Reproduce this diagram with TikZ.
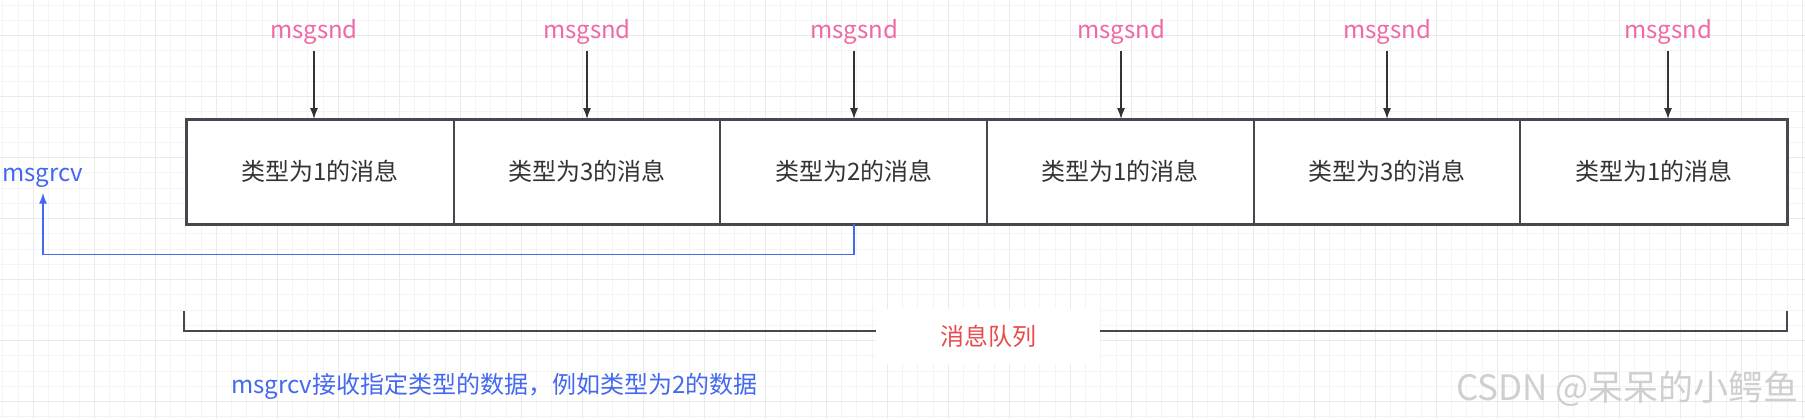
\documentclass[tikz,border=0pt]{standalone}
\usepackage{fontspec}
\setmainfont{Noto Sans CJK SC}
\usetikzlibrary{arrows.meta}
\definecolor{gridminor}{HTML}{F4F4F4}
\definecolor{gridmajor}{HTML}{EAEAEA}
\definecolor{boxline}{HTML}{45494F}
\definecolor{arrowline}{HTML}{333333}
\definecolor{sndpink}{HTML}{EE6AA7}
\definecolor{rcvblue}{HTML}{4468EE}
\definecolor{qred}{HTML}{E74C4C}
\definecolor{wmgray}{HTML}{CFCFCF}
\tikzset{
  minorline/.style={draw=gridminor, line width=0.5pt},
  majorline/.style={draw=gridmajor, line width=0.5pt},
  msgbox/.style={draw=boxline, line width=0.9pt, fill=white, minimum width=133.35pt, minimum height=51.75pt, inner sep=0pt, font=\fontsize{12pt}{14pt}\selectfont, text=black!80},
  outerbox/.style={draw=boxline, line width=1.5pt},
  sndlabel/.style={text=sndpink, font=\fontsize{12pt}{14pt}\selectfont, inner sep=0pt, anchor=base},
  rcvlabel/.style={text=rcvblue, font=\fontsize{12pt}{14pt}\selectfont, inner sep=0pt, anchor=base},
  sndarrow/.style={draw=arrowline, line width=0.75pt, -{Latex[length=5.5pt,width=4pt]}},
  rcvarrow/.style={draw=rcvblue, line width=0.8pt, -{Latex[length=5.5pt,width=4pt]}},
  bracketline/.style={draw=boxline, line width=1pt},
  qlabel/.style={fill=white, text=qred, minimum width=112.2pt, minimum height=27.5pt, inner sep=0pt, font=\fontsize{12pt}{14pt}\selectfont},
  notelabel/.style={text=rcvblue, font=\fontsize{12pt}{14pt}\selectfont, inner sep=0pt},
  wmlabel/.style={text=wmgray, font=\fontsize{17.5pt}{20pt}\selectfont, inner sep=0pt}
}
\begin{document}
\begin{tikzpicture}[x=0.5pt, y=-0.5pt]
\useasboundingbox (0,0) rectangle (1805,419);
\fill[white] (0,0) rectangle (1805,419);
% grid
\foreach \k in {0,...,118} \draw[minorline] ({2.8+15.25*\k},0) -- ({2.8+15.25*\k},419);
\foreach \k in {0,...,27} \draw[minorline] (0,{5.2+15.25*\k}) -- (1805,{5.2+15.25*\k});
\foreach \k in {0,...,29} \draw[majorline] ({33.3+61*\k},0) -- ({33.3+61*\k},419);
\foreach \k in {0,...,6} \draw[majorline] (0,{35.7+61*\k}) -- (1805,{35.7+61*\k});
% boxes
\node[msgbox] (b1) at (320.3,171.75) {类型为1的消息};
\node[msgbox] (b2) at (587,171.75) {类型为3的消息};
\node[msgbox] (b3) at (853.7,171.75) {类型为2的消息};
\node[msgbox] (b4) at (1120.3,171.75) {类型为1的消息};
\node[msgbox] (b5) at (1387,171.75) {类型为3的消息};
\node[msgbox] (b6) at (1653.7,171.75) {类型为1的消息};
\draw[outerbox] (b1.north west) rectangle (b6.south east);
% msgsnd labels
\node[sndlabel] (s1) at (314,38.3) {msgsnd};
\node[sndlabel] (s2) at (587,38.3) {msgsnd};
\node[sndlabel] (s3) at (854,38.3) {msgsnd};
\node[sndlabel] (s4) at (1121,38.3) {msgsnd};
\node[sndlabel] (s5) at (1387,38.3) {msgsnd};
\node[sndlabel] (s6) at (1668,38.3) {msgsnd};
\draw[sndarrow] ([yshift=-6.2pt]s1.base) -- (s1.base |- b1.north);
\draw[sndarrow] ([yshift=-6.2pt]s2.base) -- (s2.base |- b2.north);
\draw[sndarrow] ([yshift=-6.2pt]s3.base) -- (s3.base |- b3.north);
\draw[sndarrow] ([yshift=-6.2pt]s4.base) -- (s4.base |- b4.north);
\draw[sndarrow] ([yshift=-6.2pt]s5.base) -- (s5.base |- b5.north);
\draw[sndarrow] ([yshift=-6.2pt]s6.base) -- (s6.base |- b6.north);
% msgrcv
\node[rcvlabel] (r) at (43,181.7) {msgrcv};
\draw[rcvarrow] (b3.south) -- ++(0,30) -| ([yshift=-5.5pt]r.base);
% bracket
\coordinate (bl) at (184,311);
\coordinate (br) at (1787,311);
\draw[bracketline] (bl) -- ++(0,20) -| (br);
\node[qlabel] (q) at (988,336.5) {消息队列};
% note
\node[notelabel] (note) at (494.5,386.7) {msgrcv接收指定类型的数据，例如类型为2的数据};
% watermark
\node[wmlabel] (wm) at (1627.5,389) {CSDN @呆呆的小鳄鱼};
\end{tikzpicture}
\end{document}
